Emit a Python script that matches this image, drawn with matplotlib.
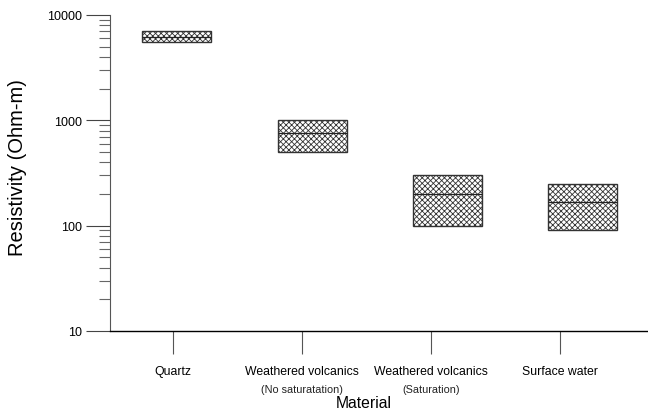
import matplotlib.pyplot as plt
import matplotlib.transforms as mtransforms
from matplotlib.ticker import LogLocator, NullFormatter

plt.rcParams['font.family'] = ['Liberation Sans', 'DejaVu Sans']
plt.rcParams['hatch.linewidth'] = 0.6
plt.rcParams['hatch.color'] = '#222222'

materials = ["Quartz", "Weathered volcanics", "Weathered volcanics", "Surface water"]
sublabels = ["", "(No saturatation)", "(Saturation)", ""]
low = [5500, 500, 100, 90]
high = [7000, 1000, 300, 250]
mid = [6200, 750, 200, 167]
box_pos = [0.03, 1.08, 2.13, 3.17]

fig = plt.figure(figsize=(6.48, 4.14), dpi=100)
ax = fig.add_axes([110 / 648, 1 - 332 / 414, 538 / 648, 316 / 414])

w = 0.535
for i in range(len(materials)):
    ax.bar(box_pos[i], high[i] - low[i], bottom=low[i], width=w,
           color="white", edgecolor="#333333", linewidth=1.0, hatch="xxxxxx")
    ax.hlines(mid[i], box_pos[i] - w / 2, box_pos[i] + w / 2, color="#222222", lw=0.9)

ax.set_yscale("log")
ax.set_ylim(10, 10000)
ax.set_xlim(-0.488, 3.68)
ax.set_yticks([10, 100, 1000, 10000])
ax.set_yticklabels(["10", "100", "1000", "10000"], fontsize=9)
ax.yaxis.set_minor_locator(LogLocator(base=10, subs=range(2, 10)))
ax.yaxis.set_minor_formatter(NullFormatter())
ax.tick_params(axis="y", which="major", length=17, width=0.8, color="#444444", pad=3)
ax.tick_params(axis="y", which="minor", length=8, width=0.8, color="#666666")

ax.set_xticks(range(len(materials)))
ax.set_xticklabels(materials, fontsize=8.8)
ax.tick_params(axis="x", length=16.5, width=0.8, color="#555555", pad=8)

for s in ["top", "right"]:
    ax.spines[s].set_visible(False)
ax.spines["left"].set_color("#555555")
ax.spines["left"].set_linewidth(0.8)
ax.spines["bottom"].set_linewidth(1.0)

trans = mtransforms.blended_transform_factory(ax.transData, ax.transAxes)
for i, s in enumerate(sublabels):
    if s:
        ax.text(i, -0.183, s, transform=trans, ha="center", va="center",
                fontsize=7.8, color="#222222")

ax.set_xlabel("Material", fontsize=11.3)
ax.xaxis.set_label_coords(0.472, -0.203)
ax.set_ylabel("Resistivity (Ohm-m)", fontsize=14.5)
ax.yaxis.set_label_coords(-0.154, 0.519)

fig.savefig("out.png", dpi=100)
